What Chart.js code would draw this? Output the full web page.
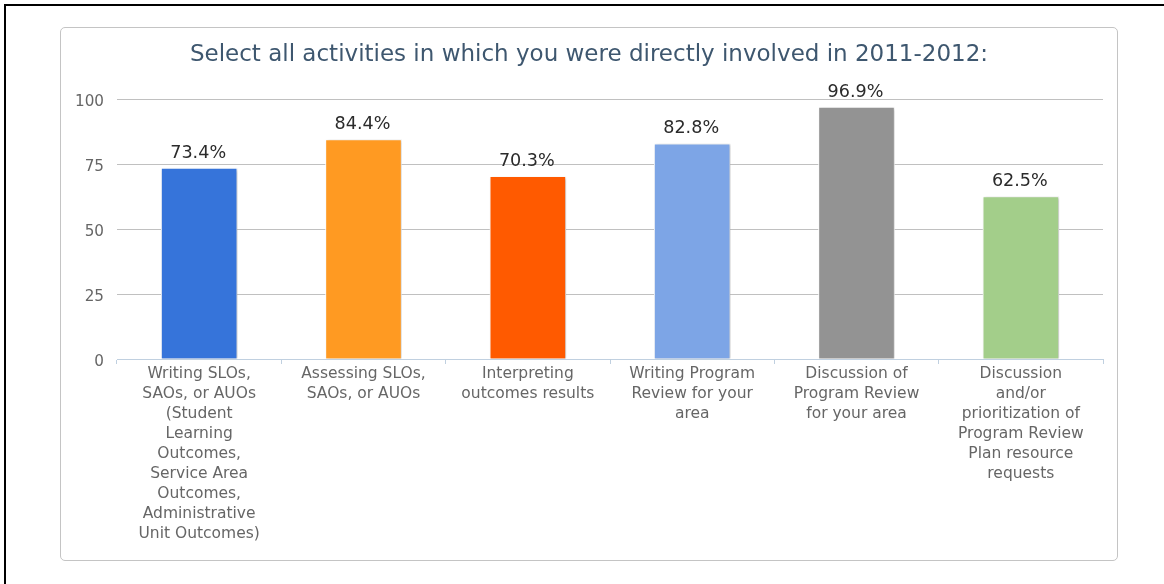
<!DOCTYPE html>
<html>
<head>
<meta charset="utf-8">
<script src="https://cdn.jsdelivr.net/npm/chart.js@4"></script>
<style>
    html, body { margin: 0; padding: 0; background: #fff; overflow: hidden; }
    body { width: 1164px; height: 584px; position: relative; font-family: "DejaVu Sans", sans-serif; }
    .frame { position: absolute; left: 4px; top: 4px; width: 1300px; height: 700px; border: 2px solid #000; }
    .card { position: absolute; left: 60px; top: 27px; width: 1056px; height: 532px; border: 1px solid #c4c4c4; border-radius: 5px; }
    #chart { position: absolute; left: 0; top: 0; }
</style>
</head>
<body>
<div class="frame"></div>
<div class="card"></div>
<canvas id="chart" width="1164" height="584"></canvas>
<script>
// 数据
const categories = [
    ['Writing SLOs,', 'SAOs, or AUOs', '(Student', 'Learning', 'Outcomes,', 'Service Area', 'Outcomes,', 'Administrative', 'Unit Outcomes)'],
    ['Assessing SLOs,', 'SAOs, or AUOs'],
    ['Interpreting', 'outcomes results'],
    ['Writing Program', 'Review for your', 'area'],
    ['Discussion of', 'Program Review', 'for your area'],
    ['Discussion', 'and/or', 'prioritization of', 'Program Review', 'Plan resource', 'requests']
];
const values = [73.4, 84.4, 70.3, 82.8, 96.9, 62.5];
const barColors = ['#3674da', '#ff9a22', '#ff5a00', '#7da5e6', '#939393', '#a3ce8a'];
const yTicks = [0, 25, 50, 75, 100];

const FONT = '"DejaVu Sans", sans-serif';

// 柱子阴影 + 数值标签
const barDecor = {
    id: 'barDecor',
    beforeDatasetsDraw(chart) {
        const ctx = chart.ctx;
        ctx.save();
        ctx.shadowColor = 'rgba(0,0,0,0.22)';
        ctx.shadowOffsetX = 1.5;
        ctx.shadowOffsetY = 1;
        ctx.shadowBlur = 3;
    },
    afterDatasetsDraw(chart) {
        const ctx = chart.ctx;
        ctx.restore();
        ctx.save();
        ctx.font = `17.6px ${FONT}`;
        ctx.fillStyle = '#2b2b2b';
        ctx.textAlign = 'center';
        ctx.textBaseline = 'middle';
        chart.getDatasetMeta(0).data.forEach((bar, i) => {
            ctx.fillText(values[i].toFixed(1) + '%', bar.x - 1, bar.y - 15);
        });
        ctx.restore();
    }
};

new Chart(document.getElementById('chart'), {
    type: 'bar',
    data: {
        labels: categories,
        datasets: [{
            data: values,
            backgroundColor: barColors,
            borderColor: '#ffffff',
            borderWidth: 1,
            barThickness: 76
        }]
    },
    options: {
        responsive: false,
        animation: false,
        layout: { padding: { left: 75, right: 61, top: 0, bottom: 0 } },
        plugins: {
            legend: { display: false },
            tooltip: { enabled: false },
            title: {
                display: true,
                text: 'Select all activities in which you were directly involved in 2011-2012:',
                color: '#3e576f',
                font: { family: FONT, size: 23, weight: 'normal', lineHeight: '28px' },
                padding: { top: 41, bottom: 30 }
            }
        },
        scales: {
            x: {
                grid: {
                    offset: true,
                    drawOnChartArea: false,
                    drawTicks: true,
                    tickLength: 5,
                    color: '#c0d0e0'
                },
                border: { color: '#c0d0e0' },
                ticks: {
                    autoSkip: false,
                    maxRotation: 0,
                    minRotation: 0,
                    padding: 0,
                    color: '#666666',
                    font: { family: FONT, size: 15.5, lineHeight: '20px' }
                },
                afterFit(scale) { scale.height = 225; }
            },
            y: {
                min: 0,
                max: 100,
                afterBuildTicks(scale) { scale.ticks = yTicks.map(v => ({ value: v })); },
                grid: { color: '#c0c0c0', drawTicks: false },
                border: { display: false },
                ticks: {
                    padding: 13,
                    labelOffset: 3,
                    color: '#666666',
                    font: { family: FONT, size: 15.2 }
                },
                afterFit(scale) { scale.width = 42; }
            }
        }
    },
    plugins: [barDecor]
});
</script>
</body>
</html>
